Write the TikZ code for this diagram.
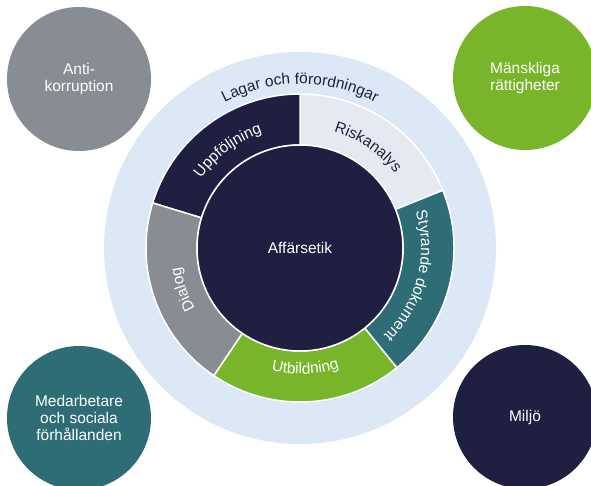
\documentclass[tikz,border=0pt]{standalone}
\usepackage{fontspec}
\setmainfont{Liberation Sans}
\usetikzlibrary{decorations.text,calc}
\definecolor{cnavy}{HTML}{1F2041}
\definecolor{cbg}{HTML}{DCE8F6}
\definecolor{crisk}{HTML}{E5EAF2}
\definecolor{cteal}{HTML}{2E6D76}
\definecolor{cgreen}{HTML}{78B52B}
\definecolor{cgray}{HTML}{878D92}
\newcommand{\mysector}[3]{%
  \filldraw[seg, fill=#3] ($(C)+(#1:154pt)$) arc[start angle=#1, end angle=#2, radius=154pt]
    -- ($(C)+(#2:103pt)$) arc[start angle=#2, end angle=#1, radius=103pt] -- cycle;}
\newcommand{\myarctext}[6]{% start, end, radius, color, text
  \path[decorate, decoration={text along path, text align=center,
    text={|\color{#4}\fontsize{#6}{#6}\selectfont|#5}}]
    ($(C)+(#1:#3pt)$) arc[start angle=#1, end angle=#2, radius=#3pt];}
\begin{document}
\begin{tikzpicture}[x=1pt,y=1pt,
  corner/.style={circle, minimum size=144pt, inner sep=0pt, text=white, align=center,
    font=\fontsize{15.5}{17}\selectfont},
  seg/.style={draw=white, line width=1.5pt}]
\useasboundingbox (0,0) rectangle (591,486);
\clip (0,0) rectangle (591,486);
\fill[white] (0,0) rectangle (591,486);
\coordinate (C) at (300,238);
\fill[cbg] (C) circle[radius=196pt];
\node[corner, fill=cgray]  (anti) at (79,407) {Anti-\\korruption};
\node[corner, fill=cgreen] (mr)   at (525,408) {Mänskliga\\rättigheter};
\node[corner, fill=cteal]  (med)  at (79,68) {Medarbetare\\och sociala\\förhållanden};
\node[corner, fill=cnavy]  (mil)  at (525,69) {Miljö};
\mysector{22}{90}{crisk}
\mysector{90}{163}{cnavy}
\mysector{163}{236}{cgray}
\mysector{236}{309}{cgreen}
\mysector{309}{382}{cteal}
\node[circle, fill=cnavy, draw=white, line width=1.5pt, minimum size=206pt, inner sep=0pt,
  text=white, font=\fontsize{15.5}{17}\selectfont] (core) at (C) {Affärsetik};
\myarctext{150}{30}{164}{cnavy}{Lagar och förordningar}{15.5}
\myarctext{90}{22}{121}{cnavy}{Riskanalys}{15.5}
\myarctext{163}{90}{121}{white}{Uppföljning}{15.5}
\myarctext{236}{163}{121}{white}{Dialog}{15.5}
\myarctext{236}{309}{126}{white}{Utbildning}{15.5}
\myarctext{22}{-51}{121}{white}{Styrande dokument}{15.5}
\end{tikzpicture}
\end{document}
